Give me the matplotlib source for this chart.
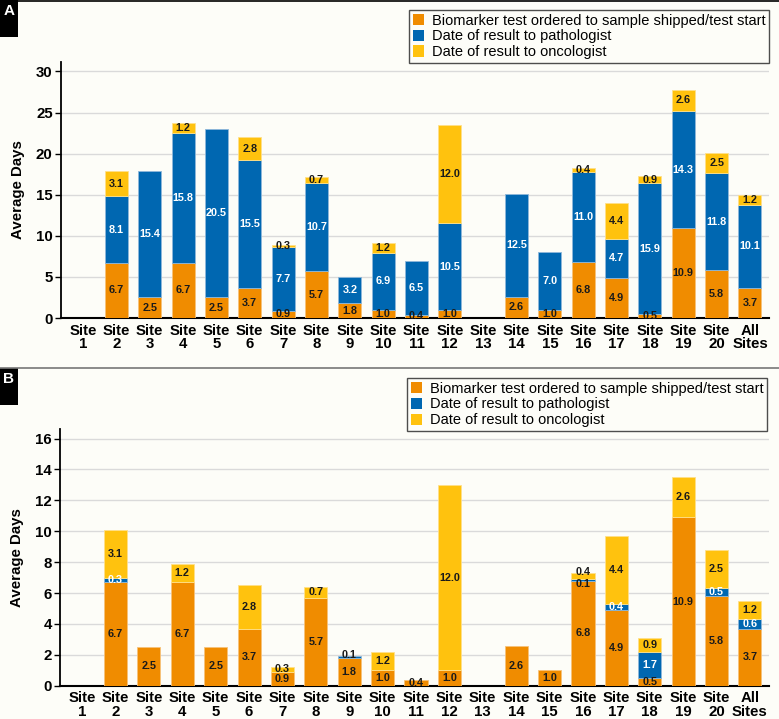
import matplotlib
matplotlib.use("Agg")
import matplotlib.pyplot as plt
from matplotlib.patches import Rectangle
import numpy as np

plt.rcParams['font.family'] = ['Liberation Sans', 'DejaVu Sans']

sites = ["Site\n1", "Site\n2", "Site\n3", "Site\n4", "Site\n5", "Site\n6", "Site\n7",
         "Site\n8", "Site\n9", "Site\n10", "Site\n11", "Site\n12", "Site\n13", "Site\n14",
         "Site\n15", "Site\n16", "Site\n17", "Site\n18", "Site\n19", "Site\n20", "All\nSites"]

orange = [0, 6.7, 2.5, 6.7, 2.5, 3.7, 0.9, 5.7, 1.8, 1.0, 0.4, 1.0, 0, 2.6, 1.0, 6.8, 4.9, 0.5, 10.9, 5.8, 3.7]
blue_a = [0, 8.1, 15.4, 15.8, 20.5, 15.5, 7.7, 10.7, 3.2, 6.9, 6.5, 10.5, 0, 12.5, 7.0, 11.0, 4.7, 15.9, 14.3, 11.8, 10.1]
yellow = [0, 3.1, 0, 1.2, 0, 2.8, 0.3, 0.7, 0, 1.2, 0, 12.0, 0, 0, 0, 0.4, 4.4, 0.9, 2.6, 2.5, 1.2]
blue_b = [0, 0.3, 0, 0, 0, 0, 0, 0, 0.1, 0, 0, 0, 0, 0, 0, 0.1, 0.4, 1.7, 0, 0.5, 0.6]

legend_labels = ["Biomarker test ordered to sample shipped/test start",
                 "Date of result to pathologist",
                 "Date of result to oncologist"]

C_OR = "#F08C00"
C_BL = "#0067B1"
C_YE = "#FFC20E"
BG = "#FDFDF8"

fig = plt.figure(figsize=(7.79, 7.19), dpi=100, facecolor=BG)


def panel(rect, blue, ylim, yticks, leg_bbox):
    ax = fig.add_axes(rect, facecolor=BG)
    x = np.arange(len(sites))
    w = 0.69
    o = np.array(orange)
    b = np.array(blue)
    yv = np.array(yellow)
    unit = ylim[1] / 16.6 * 0.3  # small label offset in data units
    for vals, bottom, col, ec, lab in [(o, 0, C_OR, "#F7C27A", legend_labels[0]),
                                       (b, o, C_BL, "#8FB8DA", legend_labels[1]),
                                       (yv, o + b, C_YE, "#FFE08A", legend_labels[2])]:
        lw = [0.6 if v > 0 else 0 for v in vals]
        ax.bar(x, vals, w, bottom=bottom, color=col, edgecolor=ec, linewidth=lw,
               zorder=3, label=lab)
    for i in x:
        if o[i] > 0:
            ax.text(i, o[i] / 2, f"{o[i]:.1f}", ha="center", va="center", fontsize=7.8,
                    color="#1a1a1a", zorder=5, fontweight="bold")
        ytxt_off = 0
        if b[i] > 0:
            col = "white" if b[i] >= 0.2 else "#1a1a1a"
            yy = o[i] + b[i] / 2
            if b[i] < 0.2:
                if yv[i] == 0:
                    yy = o[i] + b[i] + 0.1 * unit / 0.3
                else:
                    yy = o[i] + b[i] / 2 - 0.9 * unit
                    ytxt_off = 0.9 * unit
            ax.text(i, yy, f"{b[i]:.1f}", ha="center", va="center", fontsize=7.8,
                    color=col, zorder=5, fontweight="bold")
        if yv[i] > 0:
            ax.text(i, o[i] + b[i] + yv[i] / 2 + ytxt_off, f"{yv[i]:.1f}", ha="center",
                    va="center", fontsize=7.8, color="#1a1a1a", zorder=5, fontweight="bold")
    ax.set_xlim(-0.66, 20.57)
    ax.set_ylim(*ylim)
    ax.set_yticks(yticks)
    ax.set_xticks(x)
    ax.set_xticklabels(sites, fontsize=10.8, fontweight="bold", linespacing=0.95)
    ax.tick_params(axis="x", length=0, pad=4)
    ax.tick_params(axis="y", length=4, width=1, labelsize=10.8, pad=2)
    for lab in ax.get_yticklabels():
        lab.set_fontweight("bold")
    for t in yticks[1:]:
        ax.axhline(t, color="#DADADA", linewidth=1, zorder=1)
    ax.spines["top"].set_visible(False)
    ax.spines["right"].set_visible(False)
    ax.spines["left"].set_linewidth(1.3)
    ax.spines["bottom"].set_linewidth(1.5)
    ax.set_ylabel("Average Days", fontsize=10.8, fontweight="bold", labelpad=8)
    leg = ax.legend(loc="upper right", bbox_to_anchor=leg_bbox, bbox_transform=fig.transFigure,
                    frameon=True, fancybox=False, edgecolor="#222222", fontsize=10.5,
                    handlelength=0.8, handleheight=0.8, handletextpad=0.5,
                    labelspacing=0.12, borderpad=0.25, borderaxespad=0)
    leg.get_frame().set_linewidth(1.0)
    leg.get_frame().set_facecolor(BG)
    for t in leg.get_texts():
        t.set_fontweight("medium")
    return ax


panel([61 / 779, 1 - 318 / 719, 708 / 779, (318 - 62) / 719], blue_a, (0, 31.15),
      [0, 5, 10, 15, 20, 25, 30], (769 / 779, 1 - 10 / 719))
panel([60 / 779, 1 - 685.7 / 719, 709 / 779, (685.7 - 429.3) / 719], blue_b, (0, 16.6),
      [0, 2, 4, 6, 8, 10, 12, 14, 16], (767 / 779, 1 - 378 / 719))

# panel letters and separators
fig.add_artist(plt.Line2D([0, 1], [1 - 0.5 / 719, 1 - 0.5 / 719], transform=fig.transFigure,
                          color="black", linewidth=1.2))
fig.add_artist(plt.Line2D([0, 1], [1 - 367.5 / 719, 1 - 367.5 / 719], transform=fig.transFigure,
                          color="#777777", linewidth=1.2))
for ytop, letter in [(0, "A"), (368, "B")]:
    fig.add_artist(Rectangle((0, 1 - (ytop + 37) / 719), 18 / 779, 37 / 719,
                             transform=fig.transFigure, facecolor="black", edgecolor="none"))
    fig.text(9 / 779, 1 - (ytop + 11) / 719, letter, color="white", fontsize=11,
             fontweight="bold", ha="center", va="center")

fig.savefig("out.png", dpi=100, facecolor=BG)
